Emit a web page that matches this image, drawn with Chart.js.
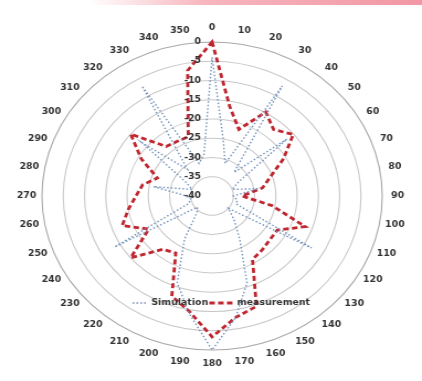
<!DOCTYPE html>
<html>
<head>
<meta charset="utf-8">
<script src="https://cdn.jsdelivr.net/npm/chart.js@4/dist/chart.umd.min.js"></script>
<style>
  html, body { margin: 0; padding: 0; background: #fff; overflow: hidden; }
  body { width: 422px; height: 381px; position: relative; }
  #band {
    position: absolute; left: 88px; top: 0; width: 334px; height: 5px;
    background: linear-gradient(to right, rgba(243,150,162,0) 0%, rgba(243,150,162,0.7) 35%, rgba(240,140,154,0.9) 100%);
  }
  /* the polar plot is drawn round and widened a little sideways */
  #wrap {
    position: absolute; left: 0; top: 0; width: 382px; height: 381px;
    transform: scaleX(1.1047); transform-origin: 0 0;
  }
</style>
</head>
<body>
<div id="wrap"><canvas id="c"></canvas></div>
<div id="band"></div>
<script>
// Azimuth of each sample, degrees (clockwise from top)
const ANGLES = [0, 10, 20, 30, 40, 50, 60, 70, 80, 90, 100, 110, 120, 130, 140, 150, 160, 170,
                180, 190, 200, 210, 220, 230, 240, 250, 260, 270, 280, 290, 300, 310, 320, 330, 340, 350];

// Normalised gain in dB
const SIMULATION = [-4, -25, -31, -7, -32, -17, -33, -35, -29, -35, -34, -34, -13, -35, -32, -27, -16, -8,
                    0, -9, -16, -27, -34.5, -35.5, -13.5, -34, -35, -34, -26, -35, -33, -18.5, -31, -7, -31, -29];
const MEASUREMENT = [0, -16.3, -21.6, -14.8, -17.5, -15.1, -20.6, -25.4, -28, -33, -25.7, -16.7, -22.3, -22.3, -21.7, -21, -9.5, -8,
                     -3.4, -9.5, -12.3, -22.9, -21.9, -15, -22.8, -17.5, -20, -22.1, -23.4, -26.3, -20.8, -15, -23.2, -23.6, -23.6, -6.9];

// Radial axis ticks
const RADIAL_TICKS = [0, -5, -10, -15, -20, -25, -30, -35, -40];

const SERIES_NAMES = ['Simulation', 'measurement'];

const TEXT_FONT = 'bold 8.5px "DejaVu Sans", sans-serif';
const TEXT_COLOR = '#333333';

// Angle labels, radial tick labels and the in-plot legend
const polarText = {
  id: 'polarText',
  afterDatasetsDraw(chart) {
    const r = chart.scales.r;
    const ctx = chart.ctx;
    ctx.save();
    ctx.font = TEXT_FONT;
    ctx.fillStyle = TEXT_COLOR;
    ctx.textAlign = 'center';
    ctx.textBaseline = 'middle';
    chart.data.labels.forEach((lab, i) => {
      const p = r.getPointPosition(i, r.drawingArea + 14);
      ctx.fillText(lab, p.x, p.y);
    });

    ctx.textAlign = 'right';
    RADIAL_TICKS.forEach(v => {
      const d = r.getDistanceFromCenterForValue(v);
      ctx.fillText(String(v), r.xCenter - 10, r.yCenter - d);
    });

    // legend row inside the lower lobe
    ctx.textAlign = 'left';
    const ly = r.yCenter + 107;
    let x = r.xCenter - 72;
    chart.data.datasets.forEach((ds, k) => {
      const len = k === 0 ? 14 : 22;
      ctx.beginPath();
      ctx.strokeStyle = ds.borderColor;
      ctx.lineWidth = ds.borderWidth;
      ctx.setLineDash(ds.borderDash);
      ctx.moveTo(x, ly);
      ctx.lineTo(x + len, ly);
      ctx.stroke();
      ctx.setLineDash([]);
      x += len + 3;
      ctx.fillText(ds.label, x, ly);
      x += ctx.measureText(ds.label).width + 1;
    });
    ctx.restore();
  }
};

new Chart(document.getElementById('c'), {
  type: 'radar',
  data: {
    labels: ANGLES.map(String),
    datasets: [
      {
        label: SERIES_NAMES[0],
        data: SIMULATION,
        borderColor: '#7393bb',
        borderWidth: 1.4,
        borderDash: [1.5, 2],
        fill: false,
        pointRadius: 0,
        backgroundColor: 'transparent'
      },
      {
        label: SERIES_NAMES[1],
        data: MEASUREMENT,
        borderColor: '#bf2630',
        borderWidth: 2.8,
        borderDash: [5, 3],
        fill: false,
        pointRadius: 0,
        backgroundColor: 'transparent'
      }
    ]
  },
  options: {
    responsive: true,
    maintainAspectRatio: false,
    animation: false,
    devicePixelRatio: 1,
    layout: { padding: { left: 38, right: 36, top: 42, bottom: 31 } },
    plugins: {
      legend: { display: false },
      tooltip: { enabled: false }
    },
    scales: {
      r: {
        min: -40,
        max: 0,
        startAngle: 0,
        ticks: { display: false, stepSize: 5 },
        pointLabels: { display: false },
        angleLines: { display: false },
        grid: {
          circular: true,
          lineWidth: 1.1,
          color: ctx => (ctx.tick && ctx.tick.value === 0) ? '#a8a8a8' : '#c8c8c8'
        }
      }
    }
  },
  plugins: [polarText]
});
</script>
</body>
</html>
